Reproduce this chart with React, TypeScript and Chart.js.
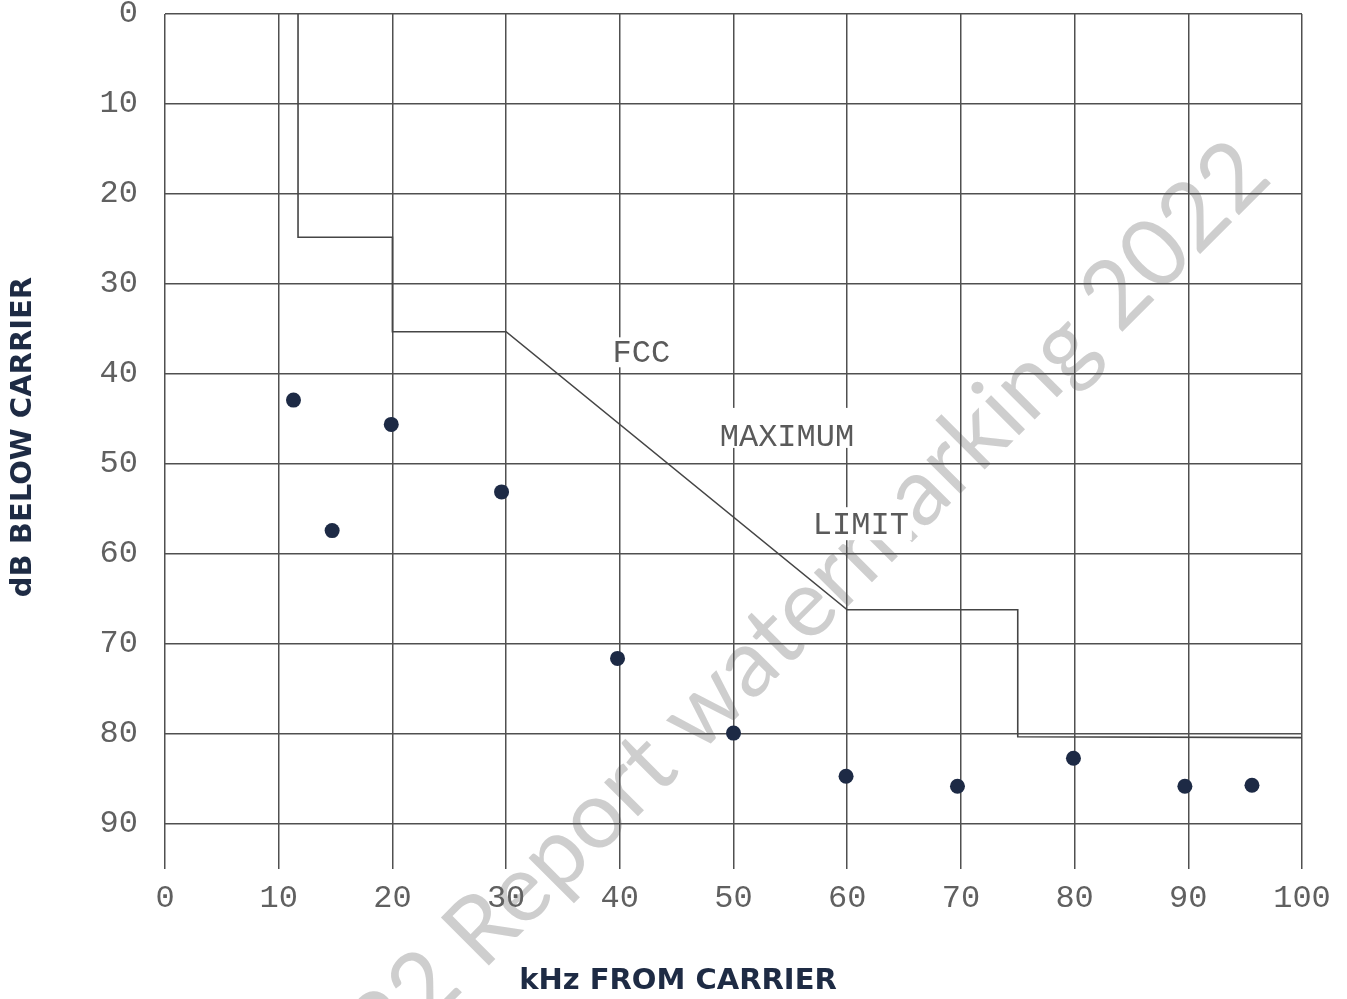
import React, { useEffect, useRef } from 'react';
import { Chart, registerables } from 'chart.js';

Chart.register(...registerables);

// ---- data ----
const xTicks = [0, 10, 20, 30, 40, 50, 60, 70, 80, 90, 100];
const yTicks = [0, 10, 20, 30, 40, 50, 60, 70, 80, 90];
const limitKHz = [11.7, 11.7, 20, 20, 30, 60, 75, 75, 100];
const limitDb = [0, 24.8, 24.8, 35.3, 35.3, 66.2, 66.2, 80.3, 80.4];
const measKHz = [11.3, 14.7, 19.9, 29.6, 39.8, 50.0, 59.9, 69.7, 79.9, 89.7, 95.6];
const measDb = [42.9, 57.4, 45.6, 53.1, 71.6, 79.9, 84.7, 85.8, 82.7, 85.8, 85.7];
const labelTexts = ['FCC', 'MAXIMUM', 'LIMIT'];
const labelKHz = [41.9, 54.7, 61.2];
const labelDb = [37.7, 47.1, 56.8];
const xTitle = 'kHz FROM CARRIER';
const yTitle = 'dB BELOW CARRIER';
const watermarkText = '2022 Report watermarking 2022';
const watermarkTail = 'Report watermarking 2022';

const MONO = '"Liberation Mono", "DejaVu Sans Mono", monospace';
const labelPad = [
  [16, 14],
  [30, 10],
  [18, 15],
];

const decor = {
  id: 'decor',
  beforeDraw(chart: any) {
    const ctx = chart.ctx;
    ctx.save();
    ctx.fillStyle = '#ffffff';
    ctx.fillRect(0, 0, chart.width, chart.height);
    // watermark
    ctx.translate(857, 554);
    ctx.rotate(-Math.PI / 4);
    ctx.font = '100px Lato, "Open Sans", sans-serif';
    const w100 = ctx.measureText(watermarkTail).width;
    const target = 1120;
    const size = (100 * target) / w100;
    ctx.font = `${size}px Lato, "Open Sans", sans-serif`;
    ctx.fillStyle = 'rgba(165,165,165,0.55)';
    ctx.textAlign = 'right';
    ctx.textBaseline = 'middle';
    ctx.fillText(watermarkText, target / 2, 0);
    ctx.restore();
  },
  beforeDatasetsDraw(chart: any) {
    const ctx = chart.ctx;
    const xs = chart.scales.x;
    const ys = chart.scales.y;
    ctx.save();
    ctx.font = `32px ${MONO}`;
    ctx.textAlign = 'center';
    ctx.textBaseline = 'middle';
    labelTexts.forEach((t, i) => {
      const px = xs.getPixelForValue(labelKHz[i]);
      const py = ys.getPixelForValue(labelDb[i]);
      const w = ctx.measureText(t).width;
      ctx.fillStyle = '#ffffff';
      ctx.fillRect(px - w / 2 - 3, py - labelPad[i][0], w + 6, labelPad[i][0] + labelPad[i][1]);
      ctx.fillStyle = '#5a5a5a';
      ctx.fillText(t, px, py);
    });
    ctx.restore();
  },
  afterDraw(chart: any) {
    const ctx = chart.ctx;
    ctx.save();
    ctx.fillStyle = '#1e2b44';
    ctx.font = 'bold 29px "DejaVu Sans", Verdana, sans-serif';
    ctx.textAlign = 'center';
    ctx.textBaseline = 'middle';
    ctx.fillText(xTitle, 678, 981);
    ctx.translate(23, 437);
    ctx.rotate(-Math.PI / 2);
    ctx.fillText(yTitle, 0, 0);
    ctx.restore();
  },
};

export default function App() {
  const ref = useRef<HTMLCanvasElement | null>(null);

  useEffect(() => {
    document.body.style.margin = '0';
    const canvas = ref.current;
    if (!canvas) return;
    const gridColor = '#505050';
    const chart = new Chart(canvas, {
      type: 'scatter',
      data: {
        datasets: [
          {
            label: 'FCC maximum limit',
            data: limitKHz.map((x, i) => ({ x, y: limitDb[i] })),
            showLine: true,
            borderColor: '#454545',
            borderWidth: 1.6,
            pointRadius: 0,
            fill: false,
            tension: 0,
          },
          {
            label: 'Measured',
            data: measKHz.map((x, i) => ({ x, y: measDb[i] })),
            showLine: false,
            pointRadius: 7.5,
            pointBackgroundColor: '#1d2a45',
            pointBorderWidth: 0,
            backgroundColor: '#1d2a45',
          },
        ],
      },
      options: {
        animation: false,
        responsive: false,
        devicePixelRatio: 1,
        layout: { padding: { top: 14, right: 45, left: 0, bottom: 0 } },
        plugins: {
          legend: { display: false },
          tooltip: { enabled: false },
        },
        scales: {
          x: {
            type: 'linear',
            min: 0,
            max: 100,
            afterBuildTicks: (s: any) => {
              s.ticks = xTicks.map((v) => ({ value: v }));
            },
            afterFit: (s: any) => {
              s.height = 130;
              s.paddingLeft = 0;
              s.paddingRight = 0;
              s.paddingTop = 0;
              s.paddingBottom = 0;
            },
            grid: { color: gridColor, lineWidth: 1.5, drawTicks: false },
            border: { display: false },
            ticks: {
              color: '#606060',
              font: { family: MONO, size: 32 },
              padding: 10,
              maxRotation: 0,
              autoSkip: false,
            },
          },
          y: {
            type: 'linear',
            reverse: true,
            min: 0,
            max: 95,
            afterBuildTicks: (s: any) => {
              s.ticks = yTicks.map((v) => ({ value: v }));
            },
            afterFit: (s: any) => {
              s.width = 165;
              s.paddingTop = 0;
              s.paddingBottom = 0;
              s.paddingLeft = 0;
              s.paddingRight = 0;
            },
            grid: { color: gridColor, lineWidth: 1.5, drawTicks: false },
            border: { display: false },
            ticks: {
              color: '#606060',
              font: { family: MONO, size: 32, lineHeight: 0.8 },
              padding: 27,
              autoSkip: false,
            },
          },
        },
      },
      plugins: [decor],
    } as any);
    return () => chart.destroy();
  }, []);

  return (
    <canvas
      ref={ref}
      width={1347}
      height={999}
      style={{ display: 'block', width: '1347px', height: '999px' }}
    />
  );
}
